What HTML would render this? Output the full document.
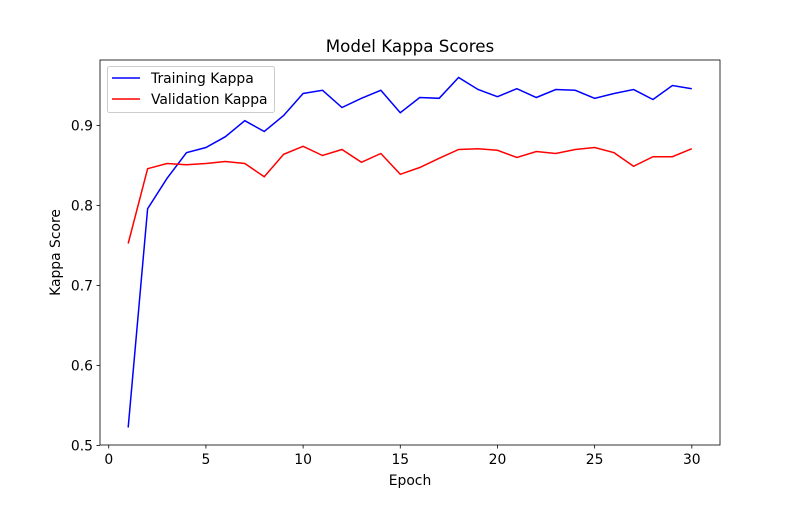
<!DOCTYPE html>
<html><head><meta charset="utf-8"><style>
body{margin:0;background:#fff;font-family:"Liberation Sans","DejaVu Sans",sans-serif;}
svg text{font-family:"DejaVu Sans","Liberation Sans",sans-serif;}
</style></head><body>
<svg id="chart" width="800" height="500" xmlns="http://www.w3.org/2000/svg"></svg>
<script>
const epochs=[1,2,3,4,5,6,7,8,9,10,11,12,13,14,15,16,17,18,19,20,21,22,23,24,25,26,27,28,29,30];
const trainKappa=[0.5225,0.796,0.834,0.866,0.8725,0.886,0.906,0.8925,0.9125,0.94,0.944,0.9225,0.934,0.944,0.916,0.935,0.934,0.96,0.945,0.936,0.946,0.935,0.945,0.944,0.934,0.94,0.945,0.9325,0.95,0.946];
const valKappa=[0.7525,0.846,0.8525,0.851,0.8525,0.855,0.8525,0.836,0.864,0.874,0.8625,0.87,0.854,0.865,0.839,0.8475,0.859,0.87,0.871,0.869,0.86,0.8675,0.865,0.87,0.8725,0.866,0.849,0.861,0.861,0.871];
const xTicks=[0,5,10,15,20,25,30];
const yTicks=[0.5,0.6,0.7,0.8,0.9];
const L=100,R=720,T=60,B=445;
const all=trainKappa.concat(valKappa);
const dmin=Math.min(...all),dmax=Math.max(...all);
const ymin=dmin-0.05*(dmax-dmin),ymax=dmax+0.05*(dmax-dmin);
const e0=Math.min(...epochs),e1=Math.max(...epochs);
const xmin=e0-0.05*(e1-e0),xmax=e1+0.05*(e1-e0);
const sx=v=>L+(v-xmin)/(xmax-xmin)*(R-L);
const sy=v=>B-(v-ymin)/(ymax-ymin)*(B-T);
const svg=document.getElementById('chart');
const NS='http://www.w3.org/2000/svg';
function mk(tag,attrs,parent){const e=document.createElementNS(NS,tag);for(const k in attrs)e.setAttribute(k,attrs[k]);(parent||svg).appendChild(e);return e;}
function txt(s,attrs){const t=mk('text',attrs);t.textContent=s;return t;}
xTicks.forEach(v=>{const x=sx(v);
const l=mk('line',{x1:x,x2:x,y1:B,y2:B+3.5,stroke:'#000','stroke-width':0.8});


const t=txt(String(v),{x:x,y:B+19,'font-size':13.9,'text-anchor':'middle'});

});
yTicks.forEach(v=>{const y=sy(v);
const l=mk('line',{x1:L-3.5,x2:L,y1:y,y2:y,stroke:'#000','stroke-width':0.8});


const t=txt(v.toFixed(1),{x:L-7,y:y+5,'font-size':13.9,'text-anchor':'end'});

});
function series(vals,color,name){
const p=mk('polyline',{points:vals.map((v,i)=>sx(epochs[i])+','+sy(v)).join(' '),fill:'none',stroke:color,'stroke-width':1.5});

}
series(trainKappa,'#0000ff','training-kappa-line');
series(valKappa,'#ff0000','validation-kappa-line');
const fr=mk('rect',{x:L,y:T,width:R-L,height:B-T,fill:'none',stroke:'#000','stroke-width':0.8});


const tt=txt('Model Kappa Scores',{x:(L+R)/2,y:52,'font-size':16.7,'text-anchor':'middle'});


const xt=txt('Epoch',{x:(L+R)/2,y:485,'font-size':13.9,'text-anchor':'middle'});


const yt=txt('Kappa Score',{x:0,y:0,'font-size':13.9,'text-anchor':'middle',transform:'translate(60,'+((T+B)/2)+') rotate(-90)'});


const lg=mk('rect',{x:107.5,y:66.5,width:167,height:46,rx:2,fill:'#fff','fill-opacity':0.8,stroke:'#ccc','stroke-width':1});


[['Training Kappa','#0000ff',78],['Validation Kappa','#ff0000',99]].forEach(([s,c,y])=>{
const l=mk('line',{x1:112,x2:140,y1:y,y2:y,stroke:c,'stroke-width':1.5});


const t=txt(s,{x:151,y:y+5,'font-size':13.9});

});
</script>
</body></html>
